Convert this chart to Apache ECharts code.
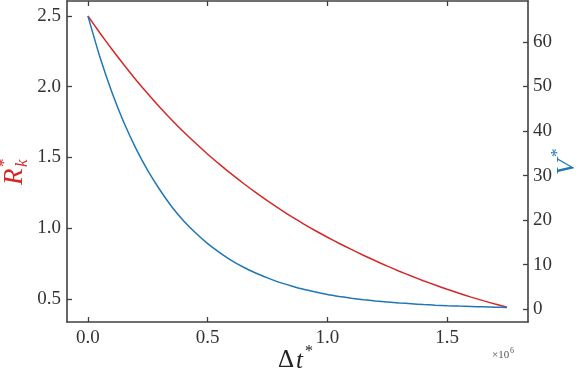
<!DOCTYPE html>
<html><head><meta charset="utf-8">
<script src="https://cdn.jsdelivr.net/npm/echarts@6/dist/echarts.min.js"></script>
<style>html,body{margin:0;padding:0;background:#fff}#c{width:578px;height:371px}</style>
</head><body><div id="c"></div>
<script>
// Δt* (×10^6)
const timeValues = [0, 0.05, 0.1, 0.15, 0.2, 0.25, 0.3, 0.35, 0.4, 0.45, 0.5, 0.55, 0.6, 0.65, 0.7, 0.75, 0.8, 0.85, 0.9, 0.95,
  1.0, 1.05, 1.1, 1.15, 1.2, 1.25, 1.3, 1.35, 1.4, 1.45, 1.5, 1.55, 1.6, 1.65, 1.7, 1.75];
// R_k* (left axis, red)
const radiusValues = [2.5, 2.38, 2.265, 2.155, 2.05, 1.95, 1.855, 1.765, 1.68, 1.6, 1.523, 1.451, 1.382, 1.316, 1.253, 1.193, 1.136, 1.082, 1.031, 0.982,
  0.936, 0.892, 0.85, 0.809, 0.77, 0.732, 0.696, 0.662, 0.629, 0.598, 0.568, 0.54, 0.513, 0.488, 0.464, 0.442];
// V* (right axis, blue)
const volumeValues = [65.8, 56.6, 48.7, 41.9, 36.1, 31.1, 26.8, 23.0, 19.8, 17.1, 14.7, 12.7, 10.9, 9.4, 8.1, 7.0, 6.0, 5.2, 4.45, 3.85,
  3.3, 2.85, 2.45, 2.12, 1.83, 1.6, 1.38, 1.2, 1.03, 0.89, 0.77, 0.67, 0.58, 0.5, 0.42, 0.35];
const xTicks = [0, 0.5, 1.0, 1.5];
const leftTicks = [0.5, 1.0, 1.5, 2.0, 2.5];
const rightTicks = [0, 10, 20, 30, 40, 50, 60];

const RED = '#d62728', BLUE = '#1f77b4', AX = '#404040';
const FONT = 'Liberation Serif';

const chart = echarts.init(document.getElementById('c'), null, {renderer: 'canvas'});
const lbl = {fontFamily: FONT, fontSize: 19, color: '#333'};
const axLine = {show: true, onZero: false, lineStyle: {color: AX, width: 1.6}};
const tick = (vals) => ({show: true, inside: true, length: 5, customValues: vals, lineStyle: {color: AX, width: 1.3}});

chart.setOption({
  animation: false,
  backgroundColor: '#fff',
  grid: {left: 67, right: 50, top: 1, bottom: 49, containLabel: false},
  xAxis: [
    {type: 'value', position: 'bottom', min: -0.0875, max: 1.8375,
     axisLine: axLine, axisTick: tick(xTicks), splitLine: {show: false},
     axisLabel: Object.assign({customValues: xTicks, margin: 7, formatter: v => v.toFixed(1)}, lbl)},
    {type: 'value', position: 'top', min: -0.0875, max: 1.8375,
     axisLine: axLine, axisTick: tick(xTicks), splitLine: {show: false}, axisLabel: {show: false}}
  ],
  yAxis: [
    {type: 'value', position: 'left', min: 0.337, max: 2.606,
     axisLine: axLine, axisTick: tick(leftTicks), splitLine: {show: false},
     axisLabel: Object.assign({customValues: leftTicks, margin: 6, formatter: v => v.toFixed(1)}, lbl)},
    {type: 'value', position: 'right', min: -2.9, max: 69.2,
     axisLine: axLine, axisTick: tick(rightTicks), splitLine: {show: false},
     axisLabel: Object.assign({customValues: rightTicks, margin: 5, formatter: v => String(v)}, lbl)}
  ],
  series: [
    {type: 'line', xAxisIndex: 0, yAxisIndex: 0, smooth: 0.2, showSymbol: false,
     lineStyle: {color: RED, width: 1.5}, itemStyle: {color: RED},
     data: timeValues.map((t, i) => [t, radiusValues[i]])},
    {type: 'line', xAxisIndex: 0, yAxisIndex: 1, smooth: 0.2, showSymbol: false,
     lineStyle: {color: BLUE, width: 1.5}, itemStyle: {color: BLUE},
     data: timeValues.map((t, i) => [t, volumeValues[i]])}
  ],
  graphic: [
    {type: 'group', x: 15, y: 168, rotation: Math.PI / 2, children: [
      {type: 'text', x: -17, y: 0, style: {text: 'R', font: 'italic 27px ' + FONT, fill: RED, textAlign: 'left', textVerticalAlign: 'middle'}},
      {type: 'text', x: 1, y: -10, style: {text: '*', font: '17px ' + FONT, fill: RED, textAlign: 'left', textVerticalAlign: 'middle'}},
      {type: 'text', x: 1, y: 8, style: {text: 'k', font: 'italic 17px ' + FONT, fill: RED, textAlign: 'left', textVerticalAlign: 'middle'}}
    ]},
    {type: 'group', x: 567, y: 162, rotation: Math.PI / 2, children: [
      {type: 'text', x: -13, y: 0, style: {text: 'V', font: 'italic 26px ' + FONT, fill: BLUE, textAlign: 'left', textVerticalAlign: 'middle'}},
      {type: 'text', x: 5, y: -9, style: {text: '*', font: '17px ' + FONT, fill: BLUE, textAlign: 'left', textVerticalAlign: 'middle'}}
    ]},
    {type: 'text', x: 278, y: 360, style: {text: 'Δ', font: '25px ' + FONT, fill: '#222', textAlign: 'left', textVerticalAlign: 'middle'}},
    {type: 'text', x: 296, y: 361, style: {text: 't', font: 'italic 25px ' + FONT, fill: '#222', textAlign: 'left', textVerticalAlign: 'middle'}},
    {type: 'text', x: 305, y: 352, style: {text: '*', font: '16px ' + FONT, fill: '#222', textAlign: 'left', textVerticalAlign: 'middle'}},
    {type: 'text', x: 492, y: 355, style: {text: '×10', font: '11px ' + FONT, fill: '#555', textAlign: 'left', textVerticalAlign: 'middle'}},
    {type: 'text', x: 510, y: 351, style: {text: '6', font: '8px ' + FONT, fill: '#555', textAlign: 'left', textVerticalAlign: 'middle'}}
  ]
});
</script>
</body></html>
